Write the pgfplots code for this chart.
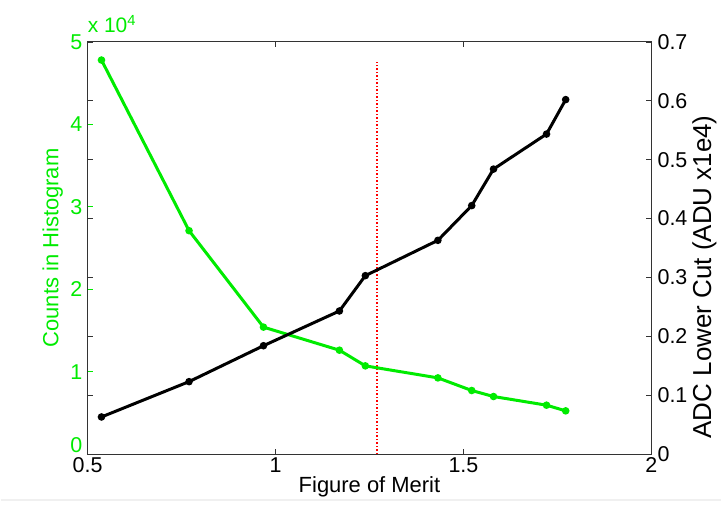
\documentclass[border=0pt]{standalone}
\usepackage{pgfplots}
\pgfplotsset{compat=1.18}
\usepackage{fontspec}
\setmainfont{Liberation Sans}
\definecolor{mgreen}{RGB}{0,235,0}
\pgfplotstableread{
x      counts  adc
0.537  4.78    0.063
0.770  2.71    0.123
0.968  1.54    0.184
1.170  1.26    0.243
1.239  1.07    0.303
1.432  0.924   0.363
1.522  0.771   0.422
1.580  0.698   0.484
1.721  0.593   0.5435
1.772  0.524   0.602
}\datatable
\begin{document}
\begin{tikzpicture}
\path (-87pt,-57pt) rectangle (635pt,455pt);
\draw[gray!12, line width=1.5pt] (-87pt,-46pt) -- (635pt,-46pt);
\pgfplotsset{
  common/.style={
    scale only axis, width=565pt, height=413pt,
    xmin=0.5, xmax=2,
    axis line style={black!80, line width=1pt},
    major tick length=5pt,
    tick style={black!80, line width=0.8pt},
    tick label style={font=\fontsize{21.5}{22}\selectfont, inner sep=1pt},
    /pgf/number format/assume math mode=true,
    clip=false,
  }
}
\begin{axis}[common,
  ymin=0, ymax=5,
  xtick={0.5,1,1.5,2},
  ytick={0,1,2,3,4,5},
  yticklabels={\raisebox{2pt}[0pt][0pt]{0},1,2,3,4,5},
  ytick pos=left,
  xtick pos=both,
  xticklabel pos=lower,
  y tick style={mgreen},
  yticklabel style={mgreen, anchor=east, xshift=-4pt},
  xticklabels={0.5,1,1.5,2},
  xticklabel style={anchor=north, yshift=-2.5pt},
  every axis y label/.style={at={(axis description cs:-0.062,0.5)}, rotate=90, anchor=center},
  ylabel={\textcolor{mgreen}{Counts in Histogram}},
  ylabel style={font=\fontsize{22}{24}\selectfont},
  every axis x label/.style={at={(axis description cs:0.5,-0.0944)}, anchor=base},
  xlabel={Figure of Merit},
  xlabel style={font=\fontsize{22}{24}\selectfont},
]
\addplot[color=red, line width=1.1pt, dash pattern=on 1.5pt off 2pt] coordinates {(1.27,0) (1.27,4.76)};
\addplot[mgreen, line width=3pt, mark=*, mark size=2.2pt] table[x=x, y=counts] {\datatable};
\node[anchor=base west, text=mgreen, font=\fontsize{21}{22}\selectfont, inner sep=0pt]
  at (axis description cs:0,1.022) {x 10\textsuperscript{4}};
\end{axis}
\begin{axis}[common,
  hide x axis,
  ymin=0, ymax=0.7,
  ytick={0,0.1,0.2,0.3,0.4,0.5,0.6,0.7},
  yticklabels={0,0.1,0.2,0.3,0.4,0.5,0.6,0.7},
  ytick pos=both,
  yticklabel pos=right,
  yticklabel style={anchor=west, xshift=5pt},
  every axis y label/.style={at={(axis description cs:1.094,0.43)}, rotate=90, anchor=center},
  ylabel={ADC Lower Cut (ADU x1e4)},
  ylabel style={font=\fontsize{26}{28}\selectfont},
]
\addplot[black, line width=3pt, mark=*, mark size=2.2pt] table[x=x, y=adc] {\datatable};
\end{axis}
\end{tikzpicture}
\end{document}
